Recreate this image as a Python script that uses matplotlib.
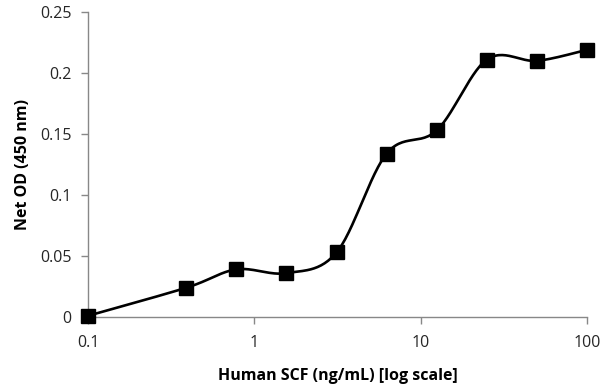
import matplotlib
matplotlib.use("Agg")
import matplotlib.pyplot as plt
import numpy as np

plt.rcParams['font.family'] = ['Open Sans', 'DejaVu Sans']

conc = [0.1, 0.39, 0.78, 1.56, 3.125, 6.25, 12.5, 25, 50, 100]
od = [0.001, 0.024, 0.039, 0.036, 0.053, 0.134, 0.153, 0.211, 0.210, 0.219]
yticks = [0, 0.05, 0.1, 0.15, 0.2, 0.25]
ytick_labels = ['0', '0.05', '0.1', '0.15', '0.2', '0.25']
xticks = [0.1, 1, 10, 100]
xtick_labels = ['0.1', '1', '10', '100']


# smooth line through the points like excel does (catmull-rom in log x)
def smooth(x, y, n=30):
    lx = np.log10(x)
    y = np.array(y)
    px = np.concatenate([[lx[0]], lx, [lx[-1]]])
    py = np.concatenate([[y[0]], y, [y[-1]]])
    outx, outy = [], []
    for i in range(1, len(px) - 2):
        t = np.linspace(0, 1, n)
        p0, p1, p2, p3 = px[i - 1], px[i], px[i + 1], px[i + 2]
        q0, q1, q2, q3 = py[i - 1], py[i], py[i + 1], py[i + 2]
        # bezier control points
        c1x = p1 + (p2 - p0) / 6
        c2x = p2 - (p3 - p1) / 6
        c1y = q1 + (q2 - q0) / 6
        c2y = q2 - (q3 - q1) / 6
        bx = (1 - t) ** 3 * p1 + 3 * (1 - t) ** 2 * t * c1x + 3 * (1 - t) * t ** 2 * c2x + t ** 3 * p2
        by = (1 - t) ** 3 * q1 + 3 * (1 - t) ** 2 * t * c1y + 3 * (1 - t) * t ** 2 * c2y + t ** 3 * q2
        outx.extend(bx)
        outy.extend(by)
    return 10 ** np.array(outx), np.array(outy)


fig = plt.figure(figsize=(6.14, 3.85), dpi=100)
ax = fig.add_axes([0.1433, 0.1766, 0.8127, 0.7922])

sx, sy = smooth(conc, od)
ax.plot(sx, sy, color='black', lw=1.9, clip_on=False, zorder=3)
ax.plot(conc, od, 's', color='black', markersize=10, clip_on=False, zorder=4)

ax.set_xscale('log')
ax.set_xlim(0.1, 100)
ax.set_ylim(0, 0.25)
ax.set_xticks(xticks)
ax.set_xticklabels(xtick_labels)
ax.minorticks_off()
ax.set_yticks(yticks)
ax.set_yticklabels(ytick_labels)

for s in ['top', 'right']:
    ax.spines[s].set_visible(False)
for s in ['left', 'bottom']:
    ax.spines[s].set_color('#888888')
    ax.spines[s].set_linewidth(1)
ax.tick_params(axis='both', colors='#888888', labelcolor='#262626', labelsize=11.5,
               length=5, width=1, direction='out')
ax.tick_params(axis='x', pad=8)
ax.tick_params(axis='y', pad=7)

ax.set_xlabel('Human SCF (ng/mL) [log scale]', fontsize=11.5, fontweight='bold', labelpad=12)
ax.set_ylabel('Net OD (450 nm)', fontsize=11.5, fontweight='bold', labelpad=6)

fig.savefig('out.png', dpi=100)
